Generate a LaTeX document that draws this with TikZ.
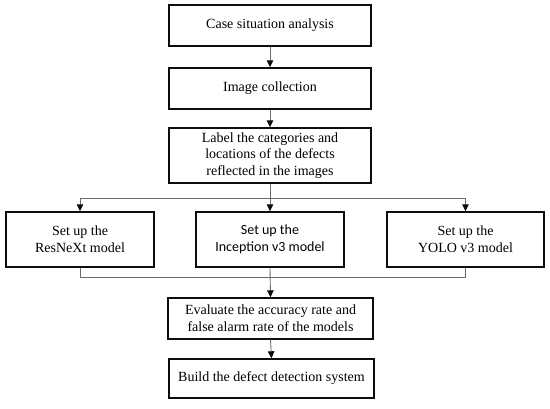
\documentclass[tikz,border=0pt]{standalone}
\usepackage{fontspec}
\setmainfont{Liberation Serif}
\newfontfamily\calibrifont{Carlito}
\usetikzlibrary{arrows.meta}
\definecolor{FlowInk}{gray}{0.05}
\definecolor{FlowLink}{gray}{0.42}
\tikzset{
    flow/diagram/.style={
        x=1pt, y=-1pt,
        font=\fontsize{14}{16.6}\selectfont,
        line cap=butt,
        line join=miter
    },
    flow/box/.style={
        draw=FlowInk, line width=1.4pt, fill=white,
        align=center, inner sep=2pt
    },
    flow/link/.style={draw=FlowLink, line width=0.9pt},
    flow/arrow/.style={
        draw=FlowLink, line width=0.9pt,
        -{Triangle[length=7pt, width=6.5pt, color=FlowInk, fill=FlowInk]}
    }
}

\begin{document}
\begin{tikzpicture}[flow/diagram]
    \useasboundingbox (0,0) rectangle (550,408);
    % main column
    \node[flow/box, minimum width=202pt, minimum height=41pt] (Case) at (270,25.5)
        {Case situation analysis};
    \node[flow/box, minimum width=202pt, minimum height=41pt] (Collect) at (270,88.5)
        {Image collection};
    \node[flow/box, minimum width=202pt, minimum height=55pt] (Label) at (270,155.5)
        {Label the categories and\\locations of the defects\\reflected in the images};
    % the three models
    \node[flow/box, minimum width=148pt, minimum height=55pt] (ResNeXt) at (80,239.5)
        {Set up the\\ResNeXt model};
    \node[flow/box, minimum width=148pt, minimum height=55pt,
          font=\calibrifont\fontsize{14}{16.6}\selectfont] (Inception) at (270,239.5)
        {Set up the\\Inception v3 model};
    \node[flow/box, minimum width=157pt, minimum height=55pt] (Yolo) at (465.5,239.5)
        {Set up the\\YOLO v3 model};
    % evaluation and system
    \node[flow/box, minimum width=205pt, minimum height=41pt] (Evaluate) at (270.5,318.5)
        {Evaluate the accuracy rate and\\false alarm rate of the models};
    \node[flow/box, minimum width=205pt, minimum height=39pt] (Build) at (271.5,378.5)
        {Build the defect detection system};
    \coordinate (Split) at (270,198);
    \coordinate (Merge) at (270,277);
    % connectors
    \draw[flow/arrow] (Case.south) -- (Collect.north);
    \draw[flow/arrow] (Collect.south) -- (Label.north);
    \draw[flow/arrow] (Label.south) -- (Inception.north);
    \draw[flow/arrow] (Split) -| (ResNeXt.north);
    \draw[flow/arrow] (Split) -| (Yolo.north);
    \draw[flow/link] (ResNeXt.south) |- (Merge);
    \draw[flow/link] (Yolo.south) |- (Merge);
    \draw[flow/arrow] (Inception.south) -- (Evaluate.north);
    \draw[flow/arrow] (Evaluate.south) -- (Build.north);
\end{tikzpicture}
\end{document}
